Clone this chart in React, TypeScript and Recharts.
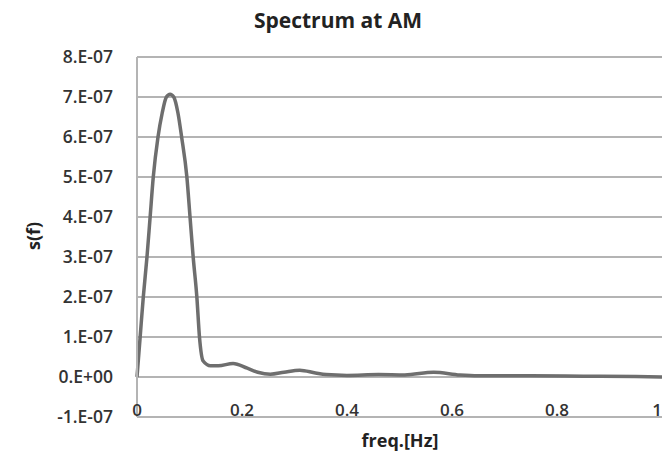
import { CartesianGrid, Line, LineChart, XAxis, YAxis } from "recharts";

// frequency [Hz]
const freq = [
  0, 0.006, 0.012, 0.019, 0.025, 0.031, 0.04, 0.048, 0.056, 0.063, 0.07, 0.078,
  0.085, 0.095, 0.101, 0.107, 0.114, 0.119, 0.126, 0.14, 0.155, 0.183, 0.21, 0.23,
  0.254, 0.28, 0.31, 0.34, 0.36, 0.4, 0.46, 0.51, 0.565, 0.615, 0.65, 0.75, 0.85,
  0.95, 1.0,
];
// spectrum s(f), in units of 1e-7
const spec = [
  0, 1.0, 2.0, 3.0, 4.0, 5.0, 6.0, 6.6, 7.0, 7.07, 7.0, 6.6,
  6.0, 5.0, 4.0, 3.0, 2.0, 1.0, 0.4, 0.28, 0.28, 0.34, 0.22, 0.12,
  0.07, 0.12, 0.17, 0.1, 0.06, 0.04, 0.06, 0.05, 0.12, 0.05, 0.03, 0.03, 0.02,
  0.01, 0.0,
];
const yTicks = [-1e-7, 0, 1e-7, 2e-7, 3e-7, 4e-7, 5e-7, 6e-7, 7e-7, 8e-7];
const xTicks = [0, 0.2, 0.4, 0.6, 0.8, 1];

const data = freq.map((f, i) => ({ f, s: spec[i] * 1e-7 }));

const font = "'Open Sans', sans-serif";
const textColor = "#333";

function yLabel(v: number) {
  const n = Math.round(v / 1e-7);
  return n === 0 ? "0.E+00" : `${n}.E-07`;
}

function XTick(props: any) {
  const { x, y, payload } = props;
  // last label sits on the right edge, keep it inside the picture
  const last = payload.value === 1;
  return (
    <text
      x={x}
      y={y - 3}
      textAnchor={last ? "end" : "middle"}
      fill={textColor}
      fontSize={17}
      fontWeight={600}
      fontFamily={font}
    >
      {String(payload.value)}
    </text>
  );
}

function YTick(props: any) {
  const { x, y, payload } = props;
  return (
    <text x={x} y={y} dy={6} textAnchor="end" fill={textColor} fontSize={17.5} fontWeight={600} fontFamily={font}>
      {yLabel(payload.value)}
    </text>
  );
}

export default function App() {
  return (
    <div style={{ position: "fixed", left: 0, top: 0, width: 662, height: 454, background: "#fff", fontFamily: font }}>
      <LineChart width={662} height={454} data={data} margin={{ top: 57, right: 0, bottom: 0, left: 0 }}>
        <CartesianGrid vertical={false} stroke="#b4b4b4" strokeWidth={2} />
        <XAxis
          dataKey="f"
          type="number"
          domain={[0, 1]}
          ticks={xTicks}
          height={37}
          tickLine={false}
          tickSize={0}
          axisLine={{ stroke: "#b4b4b4", strokeWidth: 2 }}
          tick={<XTick />}
          interval={0}
        />
        <YAxis
          type="number"
          domain={[-1e-7, 8e-7]}
          ticks={yTicks}
          width={137}
          tickLine={false}
          tickSize={0}
          tickMargin={24}
          axisLine={{ stroke: "#b4b4b4", strokeWidth: 2 }}
          tick={<YTick />}
          interval={0}
        />
        <Line
          type="monotone"
          dataKey="s"
          stroke="#6e6e6e"
          strokeWidth={3.5}
          dot={false}
          isAnimationActive={false}
        />
      </LineChart>
      <div style={{ position: "absolute", left: 338, top: 20, transform: "translate(-50%, -50%)", whiteSpace: "nowrap", fontWeight: 700, fontSize: 21, color: "#222" }}>
        Spectrum at AM
      </div>
      <div style={{ position: "absolute", left: 400, top: 440, transform: "translate(-50%, -50%)", whiteSpace: "nowrap", fontWeight: 700, fontSize: 18, color: "#222" }}>
        freq.[Hz]
      </div>
      <div style={{ position: "absolute", left: 33, top: 236, transform: "translate(-50%, -50%) rotate(-90deg)", whiteSpace: "nowrap", fontWeight: 700, fontSize: 18, color: "#222" }}>
        s(f)
      </div>
    </div>
  );
}
